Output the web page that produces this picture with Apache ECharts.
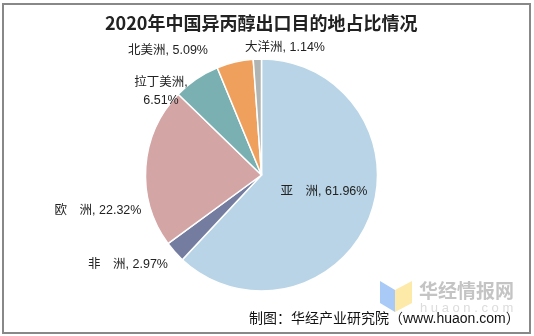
<!DOCTYPE html>
<html>
<head>
<meta charset="utf-8">
<script src="https://cdn.jsdelivr.net/npm/echarts@6/dist/echarts.min.js"></script>
<style>
html,body{margin:0;padding:0;background:#fff;}
#chart{width:534px;height:336px;}
</style>
</head>
<body>
<div id="chart"></div>
<script>
// Data
var categories = ['亚　洲', '非　洲', '欧　洲', '拉丁美洲', '北美洲', '大洋洲'];
var shares = [61.96, 2.97, 22.32, 6.51, 5.09, 1.14];
var sliceColors = ['#b8d4e6', '#747da0', '#d4a5a5', '#7ab0b2', '#f0a05d', '#b0b4b2'];
// label anchor positions (text centers)
var labelPos = [[324, 192], [128, 265], [98, 211], [161, 92], [168, 51], [285, 48]];

var chart = echarts.init(document.getElementById('chart'), null, {renderer: 'canvas'});
var FONT = '"Liberation Sans", "Noto Sans CJK SC", sans-serif';

var data = categories.map(function (c, i) {
  return {name: c, value: shares[i], itemStyle: {color: sliceColors[i]}};
});

chart.setOption({
  animation: false,
  backgroundColor: '#ffffff',
  title: {
    text: '2020年中国异丙醇出口目的地占比情况',
    left: 100,
    top: 9,
    textStyle: {fontFamily: '"Noto Sans CJK SC", sans-serif', fontSize: 18, fontWeight: 'bold', color: '#222'}
  },
  series: [{
    type: 'pie',
    center: [261.5, 175],
    radius: 116,
    startAngle: 90,
    clockwise: true,
    data: data,
    itemStyle: {borderColor: '#ffffff', borderWidth: 1.5},
    label: {
      show: true,
      position: 'outside',
      fontFamily: FONT,
      fontSize: 12.5,
      color: '#222',
      lineHeight: 18,
      formatter: function (p) {
        return p.name === '拉丁美洲' ? p.name + ',\n' + p.value + '%' : p.name + ', ' + p.value + '%';
      }
    },
    labelLine: {show: false},
    labelLayout: function (p) {
      var pos = labelPos[p.dataIndex];
      return {x: pos[0], y: pos[1], align: 'center', verticalAlign: 'middle'};
    }
  }],
  graphic: [
    {type: 'rect', shape: {x: 3, y: 4, width: 527, height: 329}, style: {fill: null, stroke: '#888888', lineWidth: 2}, z: 100},
    {type: 'polygon', shape: {points: [[380, 281], [395, 290], [395, 312], [380, 303]]}, style: {fill: '#a9c9f7'}, z: 10},
    {type: 'polygon', shape: {points: [[395, 290], [412, 281], [412, 303], [395, 312]]}, style: {fill: '#fde9a8'}, z: 10},
    {type: 'text', left: 419, top: 281, style: {text: '华经情报网', fontFamily: '"Noto Sans CJK SC", sans-serif', fontSize: 19, fontWeight: 'bold', fill: '#c4c4c4'}, z: 10},
    {type: 'text', left: 420, top: 302, style: {text: 'h u a o n . c o m', fontFamily: FONT, fontSize: 13, fill: '#dcdcdc'}, z: 10},
    {type: 'text', left: 249, top: 312, style: {text: '制图：华经产业研究院（www.huaon.com）', fontFamily: FONT, fontSize: 14, fill: '#111'}, z: 20}
  ]
});
</script>
</body>
</html>
